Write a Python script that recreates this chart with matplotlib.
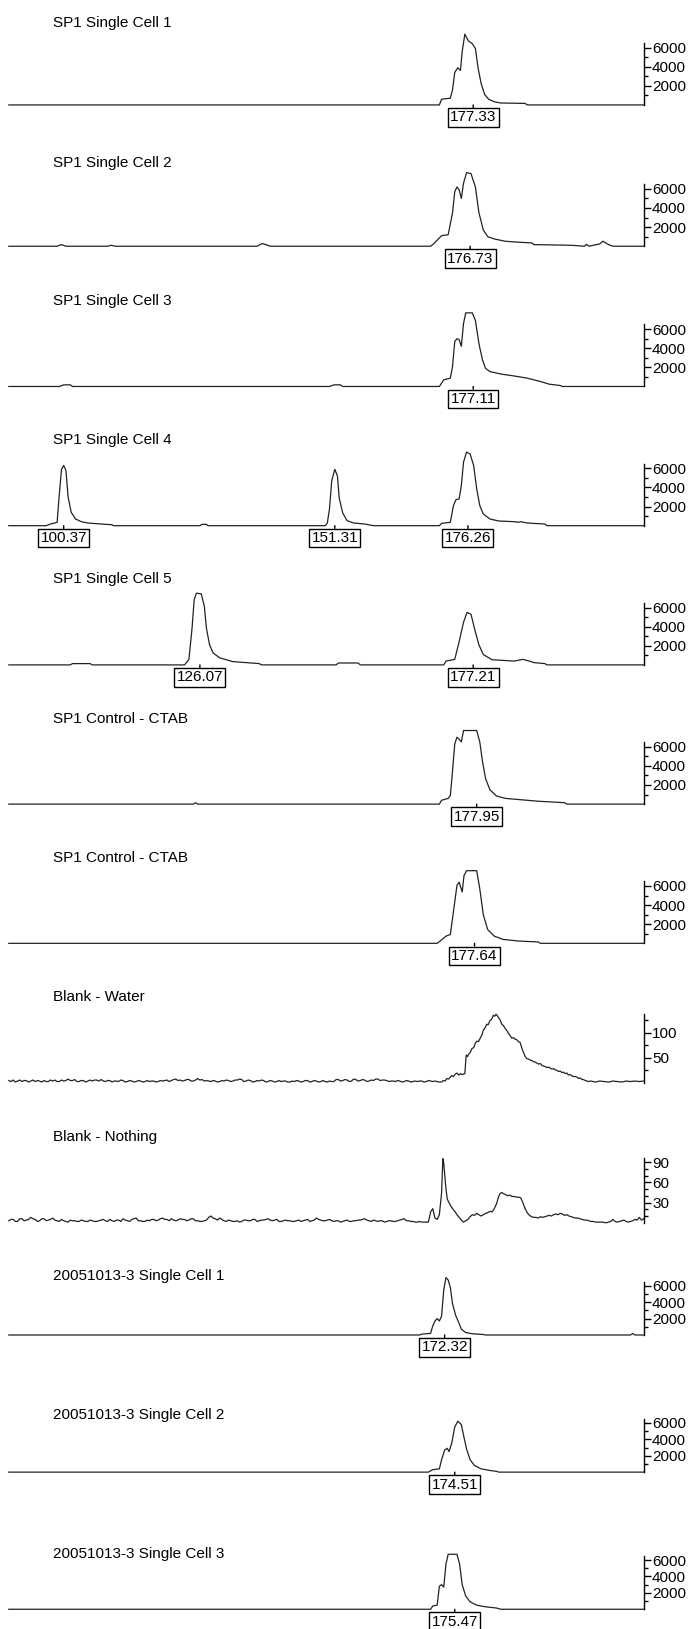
import matplotlib
matplotlib.use('Agg')
import matplotlib.pyplot as plt
from matplotlib.ticker import FixedLocator

plt.rcParams['font.family'] = ['Liberation Sans', 'DejaVu Sans']

titles = ["SP1 Single Cell 1", "SP1 Single Cell 2", "SP1 Single Cell 3", "SP1 Single Cell 4",
          "SP1 Single Cell 5", "SP1 Control - CTAB", "SP1 Control - CTAB", "Blank - Water",
          "Blank - Nothing", "20051013-3 Single Cell 1", "20051013-3 Single Cell 2",
          "20051013-3 Single Cell 3"]

# x = scan position, y = signal (RFU)
p1_x = [20, 1000, 1005, 1025, 1030, 1035, 1042, 1048, 1052, 1058, 1066, 1075, 1082, 1088, 1095, 1103, 1112, 1125, 1140, 1195, 1200, 1465]
p1_y = [0, 0, 600, 700, 1600, 3400, 3900, 3600, 5600, 7400, 6700, 6400, 5900, 3900, 2250, 1100, 600, 330, 200, 160, 0, 0]

p2_x = [20, 130, 140, 150, 245, 253, 262, 585, 597, 605, 615, 980, 985, 1005, 1020, 1030, 1035, 1040, 1045, 1050, 1055, 1062, 1072, 1082, 1090, 1100, 1110, 1125, 1150, 1180, 1210, 1215, 1300, 1330, 1335, 1340, 1365, 1372, 1385, 1395, 1465]
p2_y = [0, 0, 170, 0, 0, 100, 0, 0, 280, 170, 0, 0, 170, 1100, 1200, 3500, 5700, 6200, 5900, 5000, 6600, 7700, 7600, 6200, 3500, 1700, 1000, 760, 520, 420, 350, 170, 100, 0, 200, 0, 240, 520, 170, 0, 0]

p3_x = [20, 135, 145, 160, 165, 750, 760, 775, 780, 1000, 1010, 1025, 1030, 1035, 1040, 1045, 1050, 1055, 1060, 1075, 1082, 1090, 1098, 1105, 1115, 1140, 1170, 1200, 1230, 1250, 1275, 1280, 1465]
p3_y = [0, 0, 170, 170, 0, 0, 170, 170, 0, 0, 700, 870, 2100, 4700, 5000, 4900, 4200, 6600, 7700, 7700, 6900, 4500, 2800, 1900, 1560, 1300, 1100, 870, 520, 240, 100, 0, 0]

p4_x = [20, 105, 115, 130, 135, 140, 145, 150, 155, 162, 172, 185, 200, 230, 255, 258, 455, 460, 470, 473, 740, 745, 750, 755, 762, 768, 772, 780, 790, 805, 830, 850, 1000, 1005, 1025, 1032, 1038, 1045, 1050, 1055, 1062, 1070, 1078, 1085, 1092, 1100, 1115, 1135, 1170, 1180, 1185, 1200, 1240, 1245, 1465]
p4_y = [0, 0, 175, 350, 3300, 5900, 6300, 5800, 3000, 1400, 700, 420, 280, 175, 100, 0, 0, 140, 140, 0, 0, 280, 1800, 4700, 5900, 5200, 2900, 1330, 525, 280, 175, 0, 0, 245, 350, 2100, 2730, 2800, 4200, 6650, 7700, 7500, 6300, 3850, 2100, 1225, 700, 490, 420, 350, 420, 280, 175, 0, 0]

p5_x = [20, 160, 165, 205, 210, 420, 430, 437, 442, 447, 458, 465, 470, 477, 485, 500, 530, 560, 590, 595, 765, 770, 815, 820, 1010, 1015, 1035, 1045, 1055, 1063, 1072, 1080, 1090, 1100, 1120, 1170, 1190, 1205, 1215, 1240, 1245, 1465]
p5_y = [0, 0, 135, 135, 0, 0, 575, 3790, 6830, 7500, 7440, 6150, 3790, 2100, 1250, 740, 340, 240, 135, 0, 0, 200, 200, 0, 0, 400, 575, 2430, 4460, 5500, 5300, 3790, 2100, 1080, 540, 400, 575, 400, 240, 135, 0, 0]

p6_x = [20, 440, 445, 450, 1000, 1005, 1020, 1025, 1030, 1035, 1040, 1045, 1050, 1055, 1085, 1092, 1098, 1105, 1115, 1130, 1150, 1180, 1225, 1285, 1290, 1465]
p6_y = [0, 0, 140, 0, 0, 400, 600, 900, 3500, 6300, 7000, 6800, 6500, 7700, 7700, 6500, 4500, 2700, 1500, 850, 600, 480, 300, 150, 0, 0]

p7_x = [20, 995, 1000, 1015, 1025, 1032, 1040, 1045, 1052, 1056, 1062, 1085, 1092, 1100, 1110, 1125, 1145, 1180, 1225, 1230, 1465]
p7_y = [0, 0, 170, 750, 920, 3300, 6050, 6400, 5370, 7080, 7600, 7600, 5700, 2980, 1440, 750, 410, 240, 140, 0, 0]

# Blank - Water: baseline noise sampled every 5 scans from scan 20, then the broad peak
p8_noise_start, p8_noise_step = 20, 5
p8_noise = [4, 2, 5, 1, 3, 5, 2, 4, 4, 1, 3, 5, 2, 4, 3, 1, 4, 2, 2, 5,
            3, 5, 2, 2, 5, 3, 4, 7, 4, 4, 6, 2, 2, 4, 4, 1, 3, 5, 3, 5,
            5, 3, 6, 3, 2, 4, 4, 1, 3, 3, 2, 5, 4, 1, 2, 4, 3, 1, 2, 4,
            3, 1, 2, 4, 2, 3, 3, 1, 2, 4, 3, 4, 5, 2, 4, 6, 7, 4, 5, 3,
            4, 6, 6, 3, 3, 5, 8, 5, 6, 3, 4, 3, 2, 4, 3, 1, 2, 4, 3, 5,
            4, 2, 3, 5, 5, 7, 6, 2, 3, 5, 4, 1, 2, 4, 3, 5, 4, 1, 2, 4,
            3, 1, 2, 4, 2, 3, 3, 1, 1, 3, 2, 4, 3, 1, 2, 4, 4, 1, 2, 4,
            3, 1, 2, 4, 2, 1, 3, 2, 2, 6, 6, 3, 4, 6, 5, 2, 3, 7, 6, 3,
            4, 6, 5, 2, 3, 5, 4, 7, 7, 4, 5, 5, 4, 2, 3, 3, 2, 4, 3, 1,
            2, 4, 3, 1, 2, 3, 2, 3, 3, 1, 2, 4, 3, 2, 3, 2, 1]
p8_peak_x = [1005, 1009, 1013, 1017, 1021, 1025, 1028, 1032, 1036, 1040, 1044, 1048, 1051, 1055, 1058, 1061, 1064, 1066,
             1070, 1074, 1078, 1082, 1085, 1089, 1093, 1097, 1100, 1104, 1108, 1111, 1115, 1119, 1123, 1126, 1129,
             1132, 1134, 1138, 1142, 1146, 1150, 1153, 1157, 1161, 1165, 1169, 1172, 1176, 1180, 1184, 1187, 1191,
             1195, 1199, 1203, 1207, 1210, 1214, 1218, 1222, 1226, 1230, 1234, 1237, 1241, 1245, 1249, 1252, 1256,
             1260, 1264, 1267, 1271, 1275, 1279, 1282, 1286, 1290, 1294, 1298, 1302, 1306, 1310, 1313, 1317, 1321,
             1325, 1328, 1332, 1336, 1339, 1345, 1355, 1365, 1375, 1385, 1395, 1405, 1415, 1425, 1435, 1445, 1455, 1465]
p8_peak_y = [1, 4, 3, 8, 7, 11, 14, 12, 17, 19, 15, 18, 16, 17, 18, 55, 52, 56,
             60, 68, 70, 79, 83, 82, 89, 96, 105, 110, 117, 116, 124, 127, 135, 133, 137,
             134, 131, 126, 117, 114, 108, 105, 99, 94, 89, 90, 87, 86, 82, 80, 71, 61,
             53, 48, 47, 45, 44, 42, 41, 39, 37, 38, 34, 33, 32, 30, 31, 29, 27,
             28, 25, 25, 22, 23, 20, 21, 18, 19, 15, 16, 13, 12, 12, 11, 8, 9,
             6, 6, 4, 3, 2, 3, 1, 3, 2, 1, 3, 2, 1, 3, 2, 3, 2, 3]

# Blank - Nothing
p9_noise_start, p9_noise_step = 20, 5
p9_noise = [3, 5, 5, 2, 2, 6, 6, 3, 4, 5, 8, 6, 5, 2, 3, 6, 6, 3, 4, 5,
            7, 4, 3, 2, 5, 3, 2, 1, 4, 3, 3, 2, 2, 4, 3, 2, 2, 4, 3, 2,
            2, 3, 4, 5, 3, 2, 5, 3, 2, 4, 4, 2, 6, 4, 3, 2, 5, 6, 7, 3,
            3, 2, 2, 4, 3, 5, 5, 3, 4, 6, 7, 5, 5, 3, 6, 4, 3, 4, 6, 5,
            5, 3, 4, 6, 6, 3, 3, 2, 2, 3, 4, 8, 10, 7, 6, 4, 7, 5, 3, 2,
            4, 3, 2, 2, 3, 1, 2, 4, 4, 3, 3, 5, 5, 2, 3, 4, 4, 5, 6, 4,
            3, 4, 5, 2, 2, 3, 4, 3, 3, 2, 2, 3, 4, 2, 3, 4, 5, 2, 3, 4,
            7, 5, 4, 3, 3, 4, 5, 3, 2, 3, 3, 1, 2, 3, 4, 2, 2, 3, 3, 4,
            4, 5, 6, 4, 3, 2, 4, 3, 2, 3, 3, 1, 2, 3, 3, 2, 2, 3, 4, 5,
            6, 3, 3, 2, 2, 1, 1, 2, 1, 1, 1]
p9_peak_x = [975, 980, 985, 990, 995, 1000, 1005, 1008, 1010, 1012, 1015, 1018, 1022, 1025, 1030, 1035, 1040, 1045,
             1050, 1055, 1060, 1065, 1070, 1075, 1080, 1085, 1090, 1095, 1100, 1105, 1110, 1115, 1120, 1125, 1130,
             1135, 1138, 1142, 1146, 1150, 1155, 1160, 1165, 1170, 1175, 1180, 1185, 1190, 1195, 1200, 1205, 1210,
             1215, 1220, 1225, 1230, 1235, 1240, 1245, 1250, 1255, 1260, 1265, 1270, 1275, 1280, 1285, 1290, 1295,
             1300, 1305, 1310, 1315, 1320, 1325, 1330, 1335, 1340, 1345, 1350, 1355, 1360, 1370, 1380, 1390, 1395,
             1400, 1405, 1410, 1420, 1425, 1430, 1440, 1445, 1450, 1455, 1460, 1465]
p9_peak_y = [1, 16, 21, 7, 5, 12, 44, 95, 88, 72, 50, 35, 30, 26, 21, 17, 12, 8,
             4, 1, 3, 5, 9, 12, 11, 14, 12, 10, 12, 14, 15, 17, 16, 21, 28,
             39, 43, 45, 43, 42, 40, 41, 39, 39, 38, 38, 37, 30, 21, 15, 11, 9,
             8, 8, 7, 9, 8, 9, 10, 11, 10, 12, 13, 12, 14, 13, 11, 12, 10,
             9, 8, 7, 7, 6, 5, 4, 4, 3, 2, 2, 1, 1, 1, 0, 2, 5,
             2, 1, 2, 4, 2, 1, 3, 5, 4, 8, 4, 6]

p10_x = [20, 955, 960, 980, 985, 990, 995, 1000, 1005, 1010, 1015, 1020, 1025, 1030, 1037, 1045, 1050, 1060, 1075, 1100, 1105, 1435, 1440, 1445, 1465]
p10_y = [0, 0, 100, 200, 1100, 1700, 2000, 1700, 2300, 5500, 7000, 6700, 5800, 3800, 2400, 1400, 700, 300, 150, 60, 0, 0, 180, 0, 0]

p11_x = [20, 975, 985, 1000, 1005, 1012, 1018, 1022, 1028, 1035, 1042, 1050, 1055, 1062, 1070, 1080, 1095, 1115, 1130, 1135, 1465]
p11_y = [0, 0, 300, 400, 1500, 2700, 2900, 2500, 3500, 5500, 6200, 5800, 4500, 2800, 1500, 800, 400, 200, 100, 0, 0]

p12_x = [20, 980, 985, 995, 1000, 1005, 1010, 1015, 1020, 1040, 1046, 1052, 1060, 1070, 1085, 1105, 1130, 1140, 1465]
p12_y = [0, 0, 400, 500, 2800, 3000, 2700, 5500, 6700, 6700, 5500, 3000, 1600, 900, 500, 300, 150, 0, 0]

peak_pos = [[1077], [1070], [1077], [145, 762, 1065], [455, 1077], [1085], [1080], [], [], [1012], [1035], [1035]]
peak_txt = [["177.33"], ["176.73"], ["177.11"], ["100.37", "151.31", "176.26"], ["126.07", "177.21"],
            ["177.95"], ["177.64"], [], [], ["172.32"], ["174.51"], ["175.47"]]

rfu_major = [2000, 4000, 6000]
rfu_minor = [1000, 3000, 5000]
major_ticks = [rfu_major] * 7 + [[50, 100], [30, 60, 90]] + [rfu_major] * 3
minor_ticks = [rfu_minor] * 7 + [[25, 75, 125], [10, 20, 40, 50, 70, 80]] + [rfu_minor] * 3

p8_x = [p8_noise_start + p8_noise_step * j for j in range(len(p8_noise))] + p8_peak_x
p8_y = p8_noise + p8_peak_y
p9_x = [p9_noise_start + p9_noise_step * j for j in range(len(p9_noise))] + p9_peak_x
p9_y = p9_noise + p9_peak_y

traces = [(p1_x, p1_y), (p2_x, p2_y), (p3_x, p3_y), (p4_x, p4_y), (p5_x, p5_y), (p6_x, p6_y),
          (p7_x, p7_y), (p8_x, p8_y), (p9_x, p9_y), (p10_x, p10_y), (p11_x, p11_y), (p12_x, p12_y)]

# ---- layout (reference pixel positions, measured on 1568-tall view) ----
W, H = 689, 1629
S = H / 1568.0
title_y = [22, 157, 290, 424, 557, 692, 826, 960, 1094, 1228, 1362, 1496]
base_y = [101, 237, 372, 506, 640, 774, 908, 1042, 1177, 1285, 1417, 1549]
px_per_unit = [0.0092] * 7 + [0.48, 0.65] + [0.0079] * 3
y_top = [8000] * 7 + [145, 100] + [8000] * 3
spine_top = [6500] * 7 + [138, 96] + [6500] * 3
X0, X1 = 20, 1465
left_px, right_px = X0 / 2.276, X1 / 2.276

fig = plt.figure(figsize=(W / 100, H / 100), dpi=100)
fig.patch.set_facecolor('white')

for i in range(12):
    b = base_y[i] * S
    k = px_per_unit[i] * S
    h = y_top[i] * k
    ax = fig.add_axes([left_px / W, 1 - b / H, (right_px - left_px) / W, h / H])
    ax.patch.set_visible(False)
    x, y = traces[i]
    ax.plot(x, y, color='#222222', lw=0.9, clip_on=False)
    ax.set_xlim(X0, X1)
    ax.set_ylim(0, y_top[i])
    for s in ['left', 'top', 'bottom']:
        ax.spines[s].set_visible(False)
    ax.spines['right'].set_bounds(0, spine_top[i])
    ax.spines['right'].set_linewidth(1.0)
    ax.xaxis.set_visible(False)
    ax.yaxis.tick_right()
    ax.yaxis.set_major_locator(FixedLocator(major_ticks[i]))
    ax.yaxis.set_minor_locator(FixedLocator(minor_ticks[i]))
    ax.tick_params(axis='y', which='major', direction='out', length=5, width=1,
                   labelsize=11, pad=1)
    ax.tick_params(axis='y', which='minor', direction='out', length=3, width=1)
    fig.text(53 / W, 1 - title_y[i] * S / H, titles[i], fontsize=11, va='center', ha='left')
    for xp, lab in zip(peak_pos[i], peak_txt[i]):
        ax.annotate(lab, xy=(xp, 0), xytext=(0, -12.5 * 0.72), textcoords='offset points',
                    ha='center', va='center', fontsize=11,
                    bbox=dict(boxstyle='square,pad=0.15', fc='white', ec='black', lw=1),
                    arrowprops=dict(arrowstyle='-', lw=1, shrinkA=0, shrinkB=0, color='black'))

fig.savefig('out.png', dpi=100, facecolor='white')
